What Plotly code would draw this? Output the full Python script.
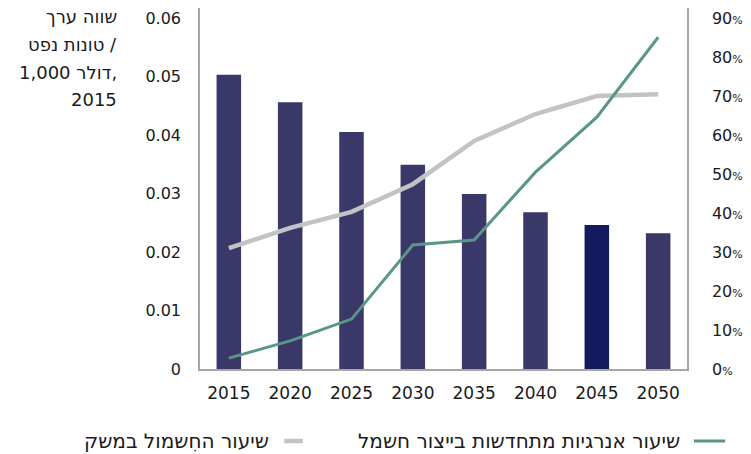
import plotly.graph_objects as go

years = ["2015", "2020", "2025", "2030", "2035", "2040", "2045", "2050"]
oil_per_gdp = [0.0503, 0.0456, 0.0405, 0.0349, 0.0299, 0.0268, 0.0246, 0.0232]
renewables_share = [2.8, 7.2, 12.8, 31.8, 33.1, 50.5, 64.6, 85.1]
electrification_share = [31.0, 36.2, 40.3, 47.4, 58.5, 65.4, 70.0, 70.5]

left_ticks = [0, 0.01, 0.02, 0.03, 0.04, 0.05, 0.06]
left_ticktext = ["0", "0.01", "0.02", "0.03", "0.04", "0.05", "0.06"]
right_ticks = [0, 10, 20, 30, 40, 50, 60, 70, 80, 90]

title_lines = ["שווה ערך", "טונות נפט /", "1,000 דולר,", "2015"]
legend_green = "שיעור אנרגיות מתחדשות בייצור חשמל"
legend_grey = "שיעור החִשמול במשק"

FONT = "DejaVu Sans"
LRE, PDF = "\u202a", "\u202c"

bar_colors = ["#393868"] * len(years)
bar_colors[6] = "#141a5f"

fig = go.Figure()
fig.add_trace(go.Bar(x=years, y=oil_per_gdp, marker=dict(color=bar_colors, line=dict(width=0)),
                     width=0.4, showlegend=False, yaxis="y"))
fig.add_trace(go.Scatter(x=years, y=electrification_share, mode="lines",
                         line=dict(color="#c3c3c5", width=4.5), showlegend=False, yaxis="y2"))
fig.add_trace(go.Scatter(x=years, y=renewables_share, mode="lines",
                         line=dict(color="#5a9688", width=3), showlegend=False, yaxis="y2"))

axis_col = "#a6a6a6"
fig.update_layout(
    width=751, height=454,
    margin=dict(l=200, r=54, t=8, b=85),
    paper_bgcolor="white", plot_bgcolor="white",
    font=dict(family=FONT, size=16, color="#1a1a1a"),
    xaxis=dict(type="category", range=[-0.47, 7.47], showline=True, linecolor=axis_col,
               linewidth=1.5, showgrid=False, ticks="", ticklabelstandoff=8,
               tickfont=dict(size=17)),
    yaxis=dict(range=[0, 0.0617], tickvals=left_ticks, ticktext=left_ticktext,
               showline=True, linecolor=axis_col, linewidth=1.5, showgrid=False,
               zeroline=False, ticks="", ticklabelstandoff=14, tickfont=dict(size=16)),
    yaxis2=dict(range=[0, 92.6], overlaying="y", side="right", tickvals=right_ticks,
                ticktext=[f"{v}<span style='font-size:11px'>%</span>" for v in right_ticks],
                showline=True, linecolor=axis_col, linewidth=1.5, showgrid=False,
                zeroline=False, ticks="", ticklabelstandoff=20, tickfont=dict(size=16)),
    bargap=0.6,
)


def px(x):
    return (x - 200) / 497


def py(y):
    return 1 - (y - 8) / 361


ys = [16, 44, 72, 99]
for line, yp in zip(title_lines, ys):
    fig.add_annotation(text=f"<span style='direction:ltr;unicode-bidi:embed'>{LRE}{line}{PDF}</span>",
                       xref="paper", yref="paper",
                       x=px(117), y=py(yp),
                       xanchor="right", yanchor="middle", showarrow=False,
                       font=dict(size=18, family=FONT), align="right")

# legend
ly = py(441)
fig.add_shape(type="line", xref="paper", yref="paper", x0=px(704), x1=px(736), y0=ly, y1=ly,
              line=dict(color="#5a9688", width=3))
fig.add_shape(type="line", xref="paper", yref="paper", x0=px(286), x1=px(305), y0=ly, y1=ly,
              line=dict(color="#c3c3c5", width=4.5))
fig.add_annotation(text=legend_green, xref="paper", yref="paper", x=px(692), y=ly,
                   xanchor="right", yanchor="middle", showarrow=False, font=dict(size=20, family=FONT))
fig.add_annotation(text=legend_grey, xref="paper", yref="paper", x=px(272), y=ly,
                   xanchor="right", yanchor="middle", showarrow=False, font=dict(size=20, family=FONT))

fig.write_html("out.html", config={"displayModeBar": False},
               post_script="document.body.style.margin='0';document.body.style.overflow='hidden';")
